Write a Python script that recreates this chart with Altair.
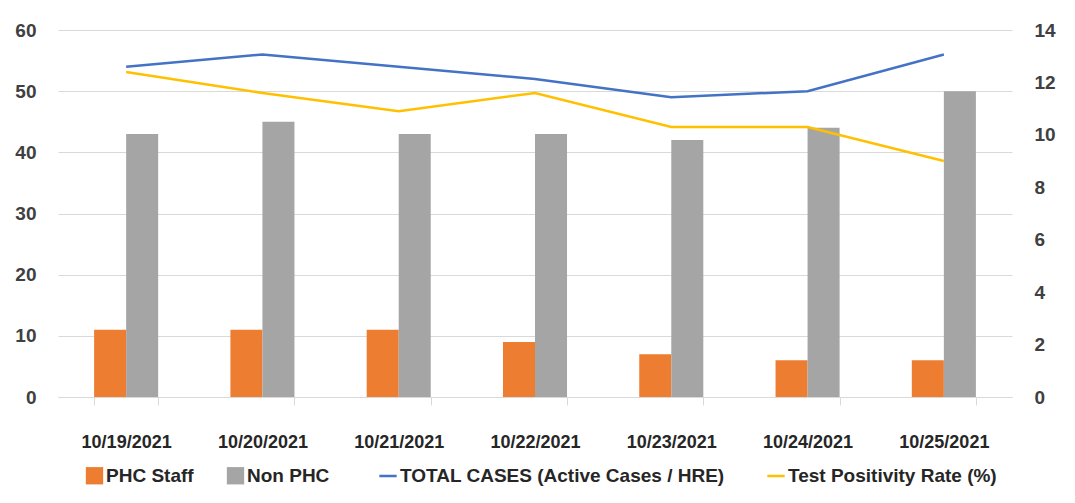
import altair as alt
import pandas as pd

dates = ["10/19/2021", "10/20/2021", "10/21/2021", "10/22/2021", "10/23/2021", "10/24/2021", "10/25/2021"]
phc_staff = [11, 11, 11, 9, 7, 6, 6]
non_phc = [43, 45, 43, 43, 42, 44, 50]
total_cases = [54, 56, 54, 52, 49, 50, 56]
positivity = [12.4, 11.6, 10.9, 11.6, 10.3, 10.3, 9.0]

bar_series = ["PHC Staff", "Non PHC"]
bar_colors = ["#ED7D31", "#A5A5A5"]
line_series = ["TOTAL CASES  (Active Cases / HRE)", "Test Positivity Rate (%)"]
line_colors = ["#4472C4", "#FFC000"]

FONT = "Liberation Sans, Arial, sans-serif"
TXT = "#404040"

bars_df = pd.DataFrame(
    [{"date": d, "series": bar_series[0], "value": v} for d, v in zip(dates, phc_staff)]
    + [{"date": d, "series": bar_series[1], "value": v} for d, v in zip(dates, non_phc)]
)
total_df = pd.DataFrame({"date": dates, "value": total_cases, "series": line_series[0]})
pos_df = pd.DataFrame({"date": dates, "value": positivity, "series": line_series[1]})

x_enc = alt.X(
    "date:N",
    sort=dates,
    scale=alt.Scale(paddingInner=0.53, paddingOuter=0.265),
    axis=alt.Axis(
        title=None, labelAngle=0, tickBand="extent", grid=False,
        domainColor="#D9D9D9", tickColor="#D9D9D9", tickSize=8,
        labelPadding=28, labelFontSize=18, labelFont=FONT, labelColor="#262626",
        labelFontWeight="bold",
    ),
)

stroke_scale = alt.Scale(domain=line_series, range=line_colors)

legend_common = dict(
    title=None, orient="none", legendY=436, direction="horizontal",
    labelFontSize=19, labelFont=FONT, labelColor="#262626", labelFontWeight="bold",
    columnPadding=32, labelOffset=2, labelLimit=0,
)

bars = alt.Chart(bars_df).mark_bar().encode(
    x=x_enc,
    xOffset=alt.XOffset("series:N", sort=bar_series, scale=alt.Scale(paddingInner=0)),
    y=alt.Y(
        "value:Q",
        scale=alt.Scale(domain=[0, 60]),
        axis=alt.Axis(
            title=None, values=list(range(0, 61, 10)), grid=True, gridColor="#D9D9D9",
            domain=False, ticks=False, labelPadding=22, labelFontSize=19,
            labelFont=FONT, labelFontWeight="bold", labelColor=TXT,
        ),
    ),
    color=alt.Color(
        "series:N",
        scale=alt.Scale(domain=bar_series, range=bar_colors),
        legend=alt.Legend(
            legendX=27, symbolType="square", symbolSize=300, symbolStrokeWidth=0,
            **legend_common,
        ),
    ),
)

total_line = alt.Chart(total_df).mark_line(strokeWidth=2.5).encode(
    x=x_enc,
    y=alt.Y("value:Q", scale=alt.Scale(domain=[0, 60]), axis=None),
    stroke=alt.Stroke(
        "series:N",
        scale=stroke_scale,
        legend=alt.Legend(
            legendX=320, symbolType="stroke", symbolSize=300, symbolStrokeWidth=2.5,
            **legend_common,
        ),
    ),
)

pos_line = alt.Chart(pos_df).mark_line(strokeWidth=2.5).encode(
    x=x_enc,
    y=alt.Y(
        "value:Q",
        scale=alt.Scale(domain=[0, 14]),
        axis=alt.Axis(
            title=None, orient="right", values=list(range(0, 15, 2)), grid=False,
            domain=False, ticks=False, labelPadding=22, labelFontSize=19,
            labelFont=FONT, labelFontWeight="bold", labelColor=TXT,
        ),
    ),
    stroke=alt.Stroke("series:N", scale=stroke_scale),
)

chart = (
    alt.layer(bars, total_line, pos_line)
    .resolve_scale(y="independent")
    .properties(
        width=954, height=367,
        autosize=alt.AutoSizeParams(type="none"),
        padding={"left": 50, "top": 22, "right": 55, "bottom": 96},
        background="white",
    )
    .configure_view(stroke=None)
)

chart.save("out.html", embed_options={"renderer": "svg", "actions": False})
